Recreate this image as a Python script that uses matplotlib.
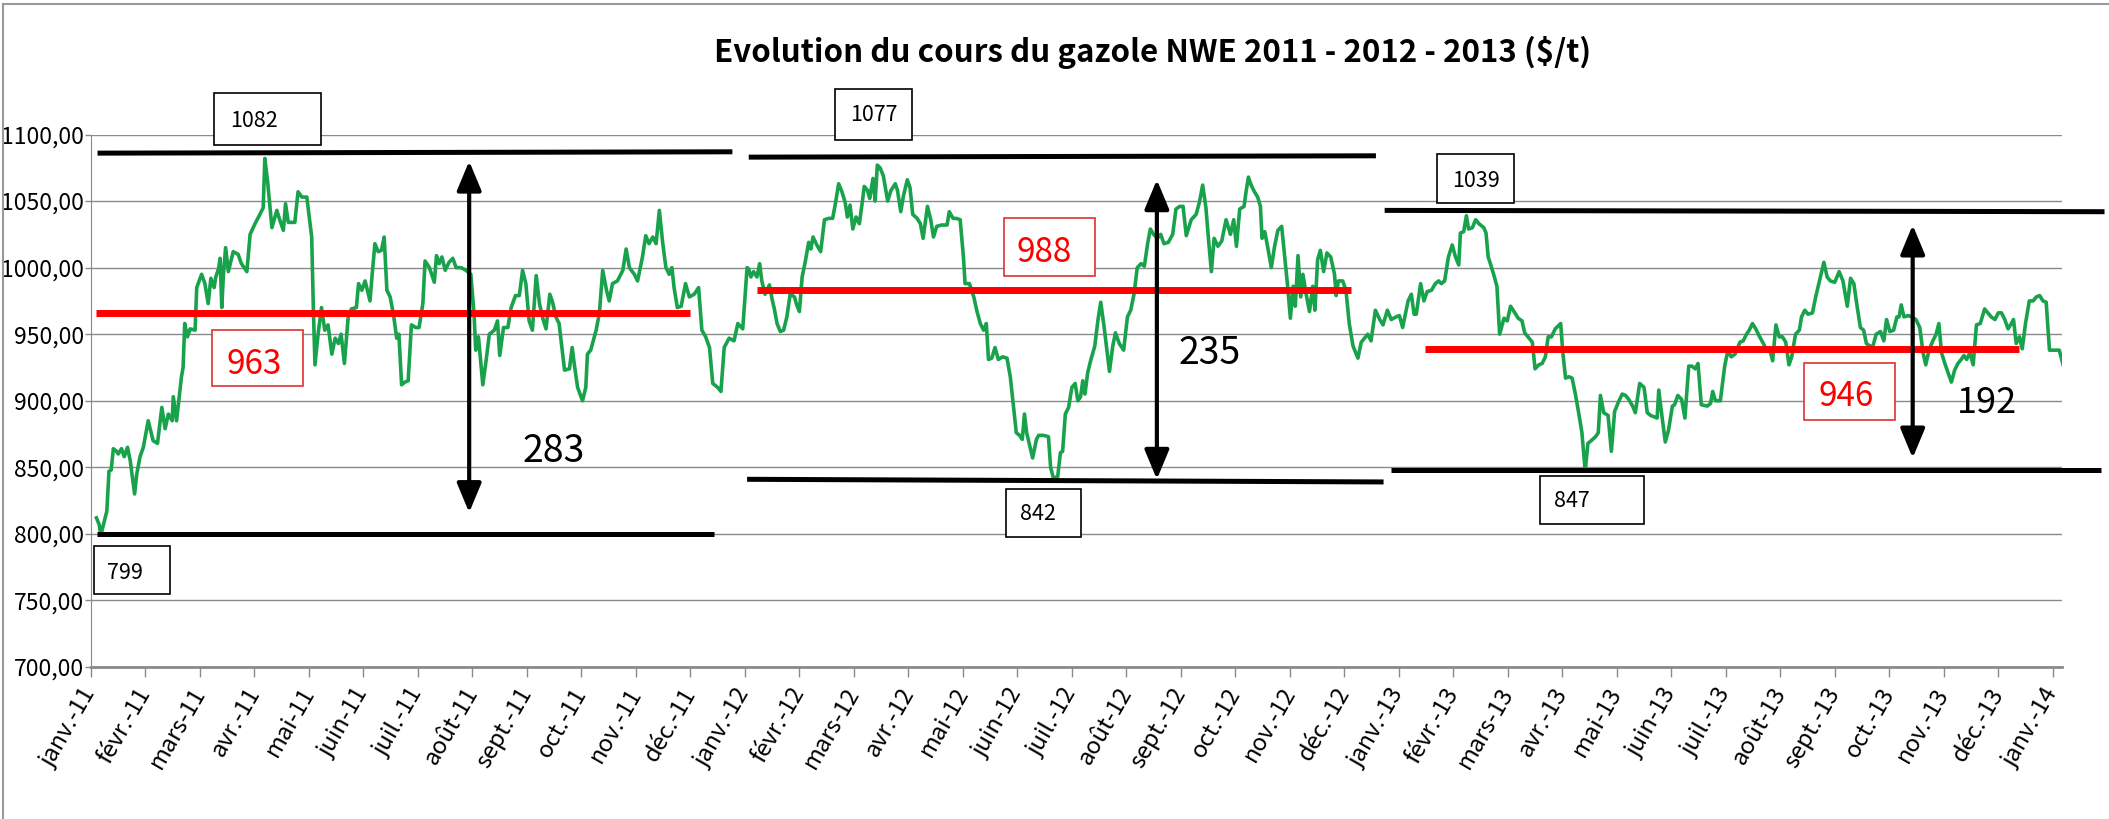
import matplotlib
matplotlib.use('Agg')
import matplotlib.pyplot as plt
import matplotlib.transforms as mtransforms
from matplotlib.patches import Rectangle, FancyArrowPatch, ArrowStyle
from matplotlib.lines import Line2D

W, H = 2109, 819
POLICE = ['Noto Sans CJK JP', 'Liberation Sans', 'DejaVu Sans']
plt.rcParams['font.family'] = POLICE

mois = ['janv.', 'févr.', 'mars', 'avr.', 'mai', 'juin', 'juil.', 'août',
        'sept.', 'oct.', 'nov.', 'déc.']
annees = ['11', '12', '13']
etiquettes_x = [m + '-' + a for a in annees for m in mois] + ['janv.-14']
graduations_y = [700, 750, 800, 850, 900, 950, 1000, 1050, 1100]

# cours du gazole NWE ($/t), x = mois écoulés depuis janv. 2011
cours_2011 = [
    (0.10, 812), (0.15, 807), (0.18, 799), (0.29, 817), (0.33, 847), (0.37, 848), (0.41, 864),
    (0.47, 862), (0.50, 860), (0.56, 864), (0.61, 858), (0.67, 865), (0.72, 855), (0.80, 830),
    (0.84, 845), (0.90, 858), (0.96, 865), (1.05, 885), (1.14, 870), (1.22, 868), (1.30, 895),
    (1.36, 879), (1.42, 890), (1.49, 885), (1.51, 903), (1.57, 885), (1.66, 918), (1.69, 925),
    (1.72, 958), (1.77, 948), (1.82, 954), (1.91, 953), (1.94, 985), (2.03, 995), (2.09, 988),
    (2.15, 973), (2.20, 992), (2.26, 985), (2.29, 993), (2.34, 999), (2.37, 1007), (2.40, 970),
    (2.43, 995), (2.47, 1015), (2.52, 997), (2.61, 1012), (2.70, 1010), (2.76, 1003), (2.86, 997),
    (2.92, 1025), (3.01, 1033), (3.10, 1040), (3.16, 1045), (3.19, 1082), (3.24, 1065), (3.32, 1030),
    (3.41, 1043), (3.47, 1035), (3.53, 1028), (3.57, 1048), (3.62, 1034), (3.74, 1034), (3.80, 1057),
    (3.87, 1053), (3.96, 1053), (4.05, 1023), (4.08, 970), (4.11, 927), (4.17, 951), (4.23, 970),
    (4.29, 953), (4.35, 957), (4.42, 935), (4.48, 947), (4.54, 943), (4.59, 950), (4.65, 928),
    (4.72, 963), (4.78, 969), (4.87, 970), (4.91, 988), (4.97, 983), (5.03, 990), (5.12, 975),
    (5.16, 995), (5.21, 1018), (5.27, 1012), (5.33, 1013), (5.38, 1023), (5.43, 983), (5.49, 978),
    (5.55, 965), (5.61, 947), (5.65, 950), (5.70, 912), (5.76, 914), (5.82, 915), (5.88, 957),
    (5.96, 955), (6.02, 955), (6.09, 973), (6.13, 1005), (6.21, 1000), (6.30, 989), (6.34, 1009),
    (6.39, 1003), (6.44, 1008), (6.50, 998), (6.57, 1004), (6.64, 1007), (6.70, 1000), (6.79, 1000),
    (6.88, 998), (6.97, 995), (7.03, 965), (7.06, 938), (7.11, 948), (7.19, 912), (7.25, 930),
    (7.31, 950), (7.40, 953), (7.46, 960), (7.50, 934), (7.57, 955), (7.65, 955), (7.71, 970),
    (7.79, 979), (7.86, 979), (7.92, 998), (7.98, 988), (8.04, 960), (8.10, 953), (8.17, 994),
    (8.23, 973), (8.29, 962), (8.35, 954), (8.42, 980), (8.47, 974), (8.53, 963), (8.59, 958),
    (8.69, 923), (8.78, 924), (8.83, 940), (8.87, 927), (8.93, 910), (9.02, 900), (9.08, 910),
    (9.11, 935), (9.17, 938), (9.27, 953), (9.33, 966), (9.39, 998), (9.46, 983), (9.51, 975),
    (9.57, 988), (9.66, 990), (9.76, 998), (9.82, 1014), (9.88, 1000), (9.97, 995), (10.03, 990),
    (10.12, 1008), (10.18, 1024), (10.24, 1018), (10.31, 1023), (10.37, 1018), (10.43, 1043),
    (10.49, 1019), (10.55, 1000), (10.61, 995), (10.66, 1000), (10.70, 985), (10.76, 970),
    (10.83, 971), (10.91, 988), (10.98, 978), (11.07, 980), (11.15, 985), (11.21, 953), (11.28, 948),
    (11.35, 940), (11.41, 913), (11.50, 910), (11.56, 907), (11.62, 940), (11.71, 947), (11.80, 945),
    (11.87, 958), (11.96, 954),
]
cours_2012 = [
    (12.04, 1000), (12.07, 999), (12.11, 993), (12.16, 997), (12.22, 993), (12.27, 1003), (12.31, 990),
    (12.37, 980), (12.45, 987), (12.50, 976), (12.54, 969), (12.59, 958), (12.65, 952), (12.71, 953),
    (12.77, 963), (12.83, 980), (12.91, 978), (12.95, 972), (13.00, 967), (13.05, 993), (13.11, 1005),
    (13.17, 1019), (13.21, 1014), (13.25, 1023), (13.32, 1017), (13.39, 1012), (13.46, 1036),
    (13.54, 1037), (13.61, 1037), (13.66, 1048), (13.72, 1063), (13.78, 1057), (13.84, 1049),
    (13.88, 1038), (13.93, 1047), (13.98, 1029), (14.04, 1038), (14.10, 1033), (14.15, 1048),
    (14.19, 1061), (14.25, 1058), (14.29, 1052), (14.35, 1067), (14.39, 1050), (14.43, 1077),
    (14.48, 1075), (14.54, 1069), (14.62, 1050), (14.68, 1058), (14.76, 1063), (14.80, 1058),
    (14.86, 1042), (14.91, 1054), (14.98, 1066), (15.03, 1060), (15.08, 1040), (15.16, 1037),
    (15.22, 1033), (15.27, 1022), (15.35, 1046), (15.41, 1036), (15.46, 1023), (15.52, 1031),
    (15.61, 1032), (15.71, 1032), (15.75, 1042), (15.82, 1037), (15.88, 1037), (15.95, 1036),
    (16.01, 1008), (16.04, 988), (16.12, 988), (16.20, 978), (16.26, 967), (16.32, 958), (16.38, 953),
    (16.43, 958), (16.47, 931), (16.53, 932), (16.59, 940), (16.65, 931), (16.73, 933), (16.81, 932),
    (16.87, 918), (16.93, 895), (16.98, 876), (17.04, 874), (17.09, 871), (17.13, 890), (17.17, 876),
    (17.24, 864), (17.28, 857), (17.35, 871), (17.39, 874), (17.48, 874), (17.57, 873), (17.61, 850),
    (17.66, 842), (17.74, 843), (17.79, 861), (17.83, 862), (17.88, 890), (17.94, 895), (18.00, 910),
    (18.06, 913), (18.11, 900), (18.16, 903), (18.20, 915), (18.24, 905), (18.29, 921), (18.35, 931),
    (18.42, 941), (18.48, 961), (18.53, 974), (18.59, 956), (18.65, 936), (18.69, 922), (18.75, 941),
    (18.80, 951), (18.87, 943), (18.95, 938), (19.02, 963), (19.08, 968), (19.14, 980), (19.20, 1000),
    (19.27, 1003), (19.33, 1001), (19.39, 1018), (19.44, 1029), (19.50, 1025), (19.57, 1022),
    (19.63, 1025), (19.69, 1018), (19.77, 1019), (19.85, 1025), (19.91, 1044), (19.98, 1046),
    (20.04, 1046), (20.10, 1024), (20.19, 1036), (20.28, 1040), (20.34, 1049), (20.40, 1062),
    (20.46, 1045), (20.51, 1020), (20.56, 997), (20.61, 1022), (20.68, 1016), (20.75, 1020),
    (20.83, 1036), (20.91, 1025), (20.97, 1036), (21.02, 1016), (21.08, 1044), (21.16, 1046),
    (21.20, 1058), (21.24, 1068), (21.29, 1062), (21.35, 1057), (21.41, 1053), (21.46, 1046),
    (21.49, 1022), (21.54, 1027), (21.60, 1014), (21.66, 1000), (21.72, 1016), (21.78, 1028),
    (21.85, 1031), (21.91, 1006), (21.96, 986), (22.01, 962), (22.06, 986), (22.10, 971), (22.15, 1009),
    (22.20, 978), (22.24, 995), (22.30, 980), (22.36, 967), (22.42, 986), (22.46, 968), (22.51, 1006),
    (22.56, 1013), (22.62, 997), (22.68, 1011), (22.75, 1008), (22.82, 995), (22.85, 979), (22.89, 990),
    (22.97, 990), (23.03, 983), (23.09, 958), (23.16, 941), (23.25, 932), (23.31, 944), (23.37, 947),
    (23.43, 950), (23.49, 945), (23.57, 968), (23.65, 961), (23.71, 957), (23.79, 968), (23.86, 961),
    (23.95, 963),
]
cours_2013 = [
    (24.01, 964), (24.07, 955), (24.17, 975), (24.23, 980), (24.28, 965), (24.32, 965), (24.40, 988),
    (24.46, 975), (24.52, 982), (24.60, 983), (24.67, 988), (24.73, 990), (24.78, 988), (24.84, 990),
    (24.91, 1008), (24.98, 1017), (25.04, 1008), (25.10, 1002), (25.13, 1026), (25.19, 1027),
    (25.24, 1039), (25.28, 1029), (25.35, 1030), (25.41, 1036), (25.47, 1033), (25.56, 1030),
    (25.60, 1026), (25.64, 1008), (25.68, 1003), (25.74, 995), (25.80, 986), (25.85, 950), (25.93, 962),
    (25.99, 960), (26.05, 971), (26.13, 966), (26.19, 962), (26.26, 960), (26.31, 951), (26.37, 948),
    (26.45, 944), (26.50, 924), (26.57, 927), (26.63, 928), (26.69, 933), (26.74, 948), (26.80, 948),
    (26.87, 954), (26.97, 958), (27.01, 936), (27.06, 917), (27.12, 918), (27.18, 917), (27.24, 905),
    (27.30, 891), (27.36, 876), (27.42, 847), (27.47, 868), (27.53, 870), (27.61, 873), (27.66, 876),
    (27.70, 904), (27.76, 891), (27.84, 889), (27.90, 862), (27.96, 892), (28.04, 900), (28.10, 905),
    (28.16, 904), (28.22, 901), (28.29, 896), (28.34, 891), (28.42, 913), (28.50, 910), (28.56, 891),
    (28.62, 889), (28.68, 888), (28.74, 887), (28.77, 908), (28.83, 888), (28.89, 869), (28.95, 878),
    (29.02, 896), (29.06, 897), (29.12, 904), (29.19, 901), (29.25, 887), (29.32, 926), (29.38, 926),
    (29.44, 924), (29.49, 928), (29.55, 897), (29.66, 896), (29.72, 898), (29.76, 907), (29.81, 900),
    (29.90, 900), (29.98, 926), (30.04, 938), (30.10, 933), (30.17, 935), (30.26, 944), (30.32, 945),
    (30.38, 950), (30.43, 953), (30.49, 958), (30.55, 954), (30.61, 949), (30.69, 943), (30.75, 938),
    (30.81, 938), (30.86, 930), (30.92, 957), (30.98, 948), (31.04, 948), (31.10, 944), (31.16, 927),
    (31.21, 933), (31.28, 950), (31.35, 953), (31.39, 963), (31.45, 968), (31.51, 965), (31.59, 966),
    (31.65, 978), (31.72, 990), (31.80, 1004), (31.86, 993), (31.92, 990), (32.00, 989), (32.08, 997),
    (32.15, 990), (32.23, 971), (32.29, 992), (32.35, 988), (32.41, 971), (32.47, 955), (32.53, 953),
    (32.58, 943), (32.65, 941), (32.70, 941), (32.76, 950), (32.84, 952), (32.90, 945), (32.95, 961),
    (33.01, 952), (33.08, 953), (33.14, 963), (33.18, 963), (33.22, 972), (33.27, 963), (33.35, 964),
    (33.41, 963), (33.49, 961), (33.56, 955), (33.62, 936), (33.67, 927), (33.73, 938), (33.80, 945),
    (33.86, 950), (33.91, 958), (33.96, 936), (34.02, 928), (34.08, 921), (34.14, 914), (34.20, 923),
    (34.26, 928), (34.32, 931), (34.37, 934), (34.42, 931), (34.48, 936), (34.54, 927), (34.60, 957),
    (34.67, 958), (34.75, 969), (34.81, 966), (34.87, 963), (34.94, 961), (35.00, 966), (35.06, 966),
    (35.12, 961), (35.18, 954), (35.24, 958), (35.28, 961), (35.33, 943), (35.39, 948), (35.44, 939),
    (35.50, 958), (35.57, 975), (35.64, 975), (35.70, 978), (35.76, 979), (35.82, 975), (35.88, 974),
    (35.94, 938), (36.01, 938), (36.12, 938), (36.19, 927),
]

# traits ajoutés à la main : (x début, x fin, niveau gauche, niveau droit)
traits_max = [(0.12, 11.77, 1086, 1087), (12.07, 23.58, 1083, 1084), (23.74, 36.95, 1043, 1042)]
traits_min = [(0.11, 11.43, 800, 800), (12.04, 23.72, 841, 839), (23.85, 36.88, 848, 848)]
traits_moy = [(0.10, 10.99, 966, 966), (12.22, 23.12, 983, 983), (24.48, 35.38, 939, 939)]
fleches = [(6.94, 1080, 816), (19.56, 1066, 841), (33.43, 1032, 857)]

# étiquettes : texte, cadre (x0, y0, x1, y1 en pixels) ou None, position du texte, couleur, taille
etiquettes = [
    ('1082', (214, 93, 321, 145), (230, 121), 'black', 15.5),
    ('799', (94, 546, 170, 594), (107, 573), 'black', 15.5),
    ('963', (212, 330, 303, 386), (227, 364), 'red', 24),
    ('283', None, (523, 452), 'black', 27),
    ('1077', (835, 89, 912, 140), (850, 115), 'black', 15.5),
    ('988', (1004, 218, 1095, 276), (1017, 253), 'red', 24),
    ('842', (1006, 489, 1081, 537), (1020, 514), 'black', 15.5),
    ('235', None, (1179, 354), 'black', 27),
    ('1039', (1437, 154, 1514, 203), (1452, 181), 'black', 15.5),
    ('847', (1540, 476, 1644, 524), (1554, 501), 'black', 15.5),
    ('946', (1804, 363, 1895, 420), (1818, 397), 'red', 24),
    ('192', None, (1957, 403), 'black', 26),
]

fig = plt.figure(figsize=(W / 100, H / 100), dpi=100)
px = mtransforms.Affine2D().scale(1 / W, -1 / H).translate(0, 1) + fig.transFigure

ax = fig.add_axes([91 / W, 1 - 667 / H, (2062 - 91) / W, (667 - 134.5) / H])
ax.set_xlim(0, 36.17)
ax.set_ylim(700, 1100)

xs = [p[0] for s in (cours_2011, cours_2012, cours_2013) for p in s]
ys = [p[1] for s in (cours_2011, cours_2012, cours_2013) for p in s]
ax.plot(xs, ys, color='#19a24c', lw=2.6, zorder=3)

ax.set_yticks(graduations_y)
ax.set_yticklabels(['%d,00' % v for v in graduations_y])
ax.set_xticks(range(len(etiquettes_x)))
ax.set_xticklabels(etiquettes_x, rotation=60, ha='right', va='center',
                   rotation_mode='anchor')
ax.tick_params(axis='y', length=4, width=1, color='#8a8a8a', pad=1, labelsize=16.5)
ax.tick_params(axis='x', length=7, width=1, color='#8a8a8a', pad=9, labelsize=17)
ax.grid(axis='y', color='#8a8a8a', lw=1)
ax.set_axisbelow(True)
for s in ('top', 'right'):
    ax.spines[s].set_visible(False)
ax.spines['left'].set_color('#8a8a8a')
ax.spines['bottom'].set_color('#8a8a8a')
ax.spines['bottom'].set_linewidth(2)

for x0, x1, y0, y1 in traits_max + traits_min:
    ax.plot([x0, x1], [y0, y1], color='black', lw=3.6, solid_capstyle='butt',
            zorder=4, clip_on=False)
for x0, x1, y0, y1 in traits_moy:
    ax.plot([x0, x1], [y0, y1], color='#ff0000', lw=5, solid_capstyle='butt',
            zorder=4, clip_on=False)
for x, haut, bas in fleches:
    ax.add_patch(FancyArrowPatch((x, haut), (x, bas),
                 arrowstyle=ArrowStyle('<|-|>', head_length=0.6, head_width=0.25),
                 mutation_scale=30, lw=3, color='black', shrinkA=0, shrinkB=0,
                 zorder=5, clip_on=False))

for texte, cadre, (tx, ty), couleur, taille in etiquettes:
    if cadre is not None:
        x0, y0, x1, y1 = cadre
        fig.patches.append(Rectangle((x0, y1), x1 - x0, y0 - y1, transform=px,
                                     fill=True, facecolor='white',
                                     edgecolor='black' if couleur == 'black' else '#e03030',
                                     lw=1.2, zorder=6))
    fig.text(tx, ty, texte, transform=px, color=couleur, fontsize=taille,
             ha='left', va='center', zorder=7)

fig.text(1153, 62, 'Evolution du cours du gazole NWE 2011 - 2012 - 2013 ($/t)',
         transform=px, ha='center', va='baseline', fontsize=22.5, weight='bold')

# cadre de la zone de graphique
fig.add_artist(Line2D([3, W], [4, 4], transform=px, color='#9a9a9a', lw=1.5))
fig.add_artist(Line2D([3, 3], [4, H], transform=px, color='#9a9a9a', lw=1.5))

fig.savefig('out.png', dpi=100)
